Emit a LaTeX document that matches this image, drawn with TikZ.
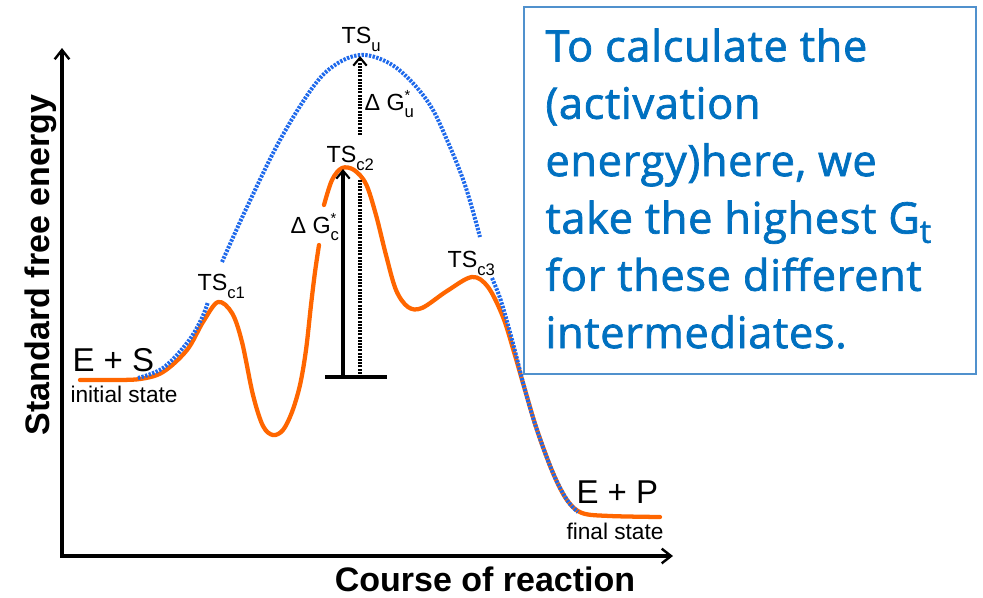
\documentclass[tikz,border=0pt]{standalone}
\usepackage{fontspec}
\setmainfont{Liberation Sans}
\newfontfamily\notefont[FakeBold=1.6,LetterSpace=1.5]{Open Sans}
\usetikzlibrary{arrows.meta}

\definecolor{pathorange}{RGB}{255,102,0}
\definecolor{pathblue}{RGB}{30,105,235}
\definecolor{notetext}{RGB}{0,112,192}
\definecolor{noteframe}{RGB}{80,145,205}

\newcommand{\lowsub}[1]{\raisebox{-6pt}{\fontsize{12.5}{12.5}\selectfont #1}}
\newcommand{\starsub}[1]{\rlap{\raisebox{7.5pt}{\fontsize{11}{11}\selectfont *}}\raisebox{-5.5pt}{\fontsize{12.5}{12.5}\selectfont #1}}
\newcommand{\notesub}[1]{\raisebox{-7pt}{\fontsize{24}{24}\selectfont #1}}

\tikzset{every picture/.style={line width=0.75pt}}

\begin{document}
\begin{tikzpicture}[x=0.75pt,y=0.75pt,yscale=-1,xscale=1,
  tslabel/.style={anchor=base west,inner sep=0pt,font=\fontsize{17.5}{20}\selectfont},
  statelabel/.style={anchor=base west,inner sep=0pt,font=\fontsize{24.75}{28}\selectfont},
  statenote/.style={anchor=base west,inner sep=0pt,font=\fontsize{17}{19}\selectfont},
  axislabel/.style={inner sep=0pt,font=\fontsize{25.5}{28}\selectfont\bfseries},
  barb/.style={-{Straight Barb[length=6pt,width=10pt,line width=1.6pt]}},
  orangepath/.style={draw=pathorange,line width=3.2pt,line cap=round,line join=round},
  bluepath/.style={draw=pathblue,line width=3pt,dash pattern={on 1.8pt off 1pt}},
  dotline/.style={line width=2.3pt,dash pattern={on 1.5pt off 0.9pt}}]
\useasboundingbox (0,0) rectangle (983,597);

%Points
\coordinate (origin) at (62,556);
\coordinate (ytop) at (62,48);
\coordinate (xend) at (673,556);
\coordinate (barL) at (325,377);
\coordinate (barR) at (387,377);
\coordinate (baseC) at (343,377);
\coordinate (peakC) at (343,169);
\coordinate (baseU) at (360,377);
\coordinate (gapU1) at (360,179);
\coordinate (gapU2) at (360,135);
\coordinate (peakU) at (360,56);

%Axes
\draw [line width=2.3pt,line join=miter,{Straight Barb[length=7pt,width=11pt,line width=1.8pt]}-{Straight Barb[length=7pt,width=11pt,line width=1.8pt]}] (ytop) -- (origin) -- (xend) ;

%Curve Lines, catalysed path
\draw [orangepath] plot [smooth,tension=0.55] coordinates {(80,380) (110,380) (140,379) (163,372) (187,350) (203,322) (218,302) (232,313) (242,342) (253,395) (263,426) (273,435) (283,430) (292,412) (300,385) (306,350) (311,305) (315,272) (319,245)} ;
\draw [orangepath] plot [smooth,tension=0.55] coordinates {(324,205) (332,180) (342,168) (354,170) (366,184) (376,215) (386,255) (396,290) (408,307) (422,308) (447,291) (472,277) (488,287) (503,317) (514,352) (525,390) (537,430) (553,473) (567,500) (582,513) (610,516) (660,517)} ;

%Curve Lines, uncatalysed path
\draw [bluepath] plot [smooth,tension=0.6] coordinates {(138,378) (163,368) (187,343) (201,320) (208,302)} ;
\draw [bluepath] plot [smooth,tension=0.6] coordinates {(222,262) (247,207) (280,140) (313,87) (335,65) (360,55) (385,61) (407,77) (430,105) (447,140) (465,185) (480,237)} ;
\draw [bluepath] plot [smooth,tension=0.6] coordinates {(492,278) (500,298) (508,325) (516,355) (525,390) (537,430) (553,473) (567,500) (578,512)} ;

%Straight Lines, energy gaps
\draw [line width=2.4pt] (barL) -- (barR) ;
\draw [dotline] (baseU) -- (gapU1) ;
\draw [dotline,barb] (gapU2) -- (peakU) ;
\draw [line width=2.3pt,barb] (baseC) -- (peakC) ;

%Shape: Rectangle
\draw [draw=noteframe,fill=white,line width=1.2pt] (524,7) rectangle (976,374) ;

% Text Node
\node (tsu) [tslabel] at (341,43) {TS\lowsub{u}};
% Text Node
\node (dgu) [tslabel] at (364,110) {Δ G\starsub{u}};
% Text Node
\node (tsc2) [tslabel] at (326,162) {TS\lowsub{c2}};
% Text Node
\node (dgc) [tslabel] at (290,233) {Δ G\starsub{c}};
% Text Node
\node (tsc1) [tslabel] at (197,290) {TS\lowsub{c1}};
% Text Node
\node (tsc3) [tslabel] at (447,267) {TS\lowsub{c3}};
% Text Node
\node (es) [statelabel] at (72,371) {E + S};
% Text Node
\node (initial) [statenote] at (70,402) {initial state};
% Text Node
\node (ep) [statelabel] at (576,503) {E + P};
% Text Node
\node (final) [statenote] at (566,539) {final state};
% Text Node
\node (yaxis) [axislabel,anchor=base,rotate=90] at (50,265) {Standard free energy};
% Text Node
\node (xaxis) [axislabel,anchor=base] at (485,591) {Course of reaction};
% Text Node
\node (note) [anchor=north west,inner sep=0pt,align=left,text=notetext,font=\notefont\fontsize{32.5}{43}\selectfont] at (545,28) {To calculate the\\(activation\\energy)here, we\\take the highest G\notesub{t}\\for these different\\intermediates.};

\end{tikzpicture}
\end{document}
